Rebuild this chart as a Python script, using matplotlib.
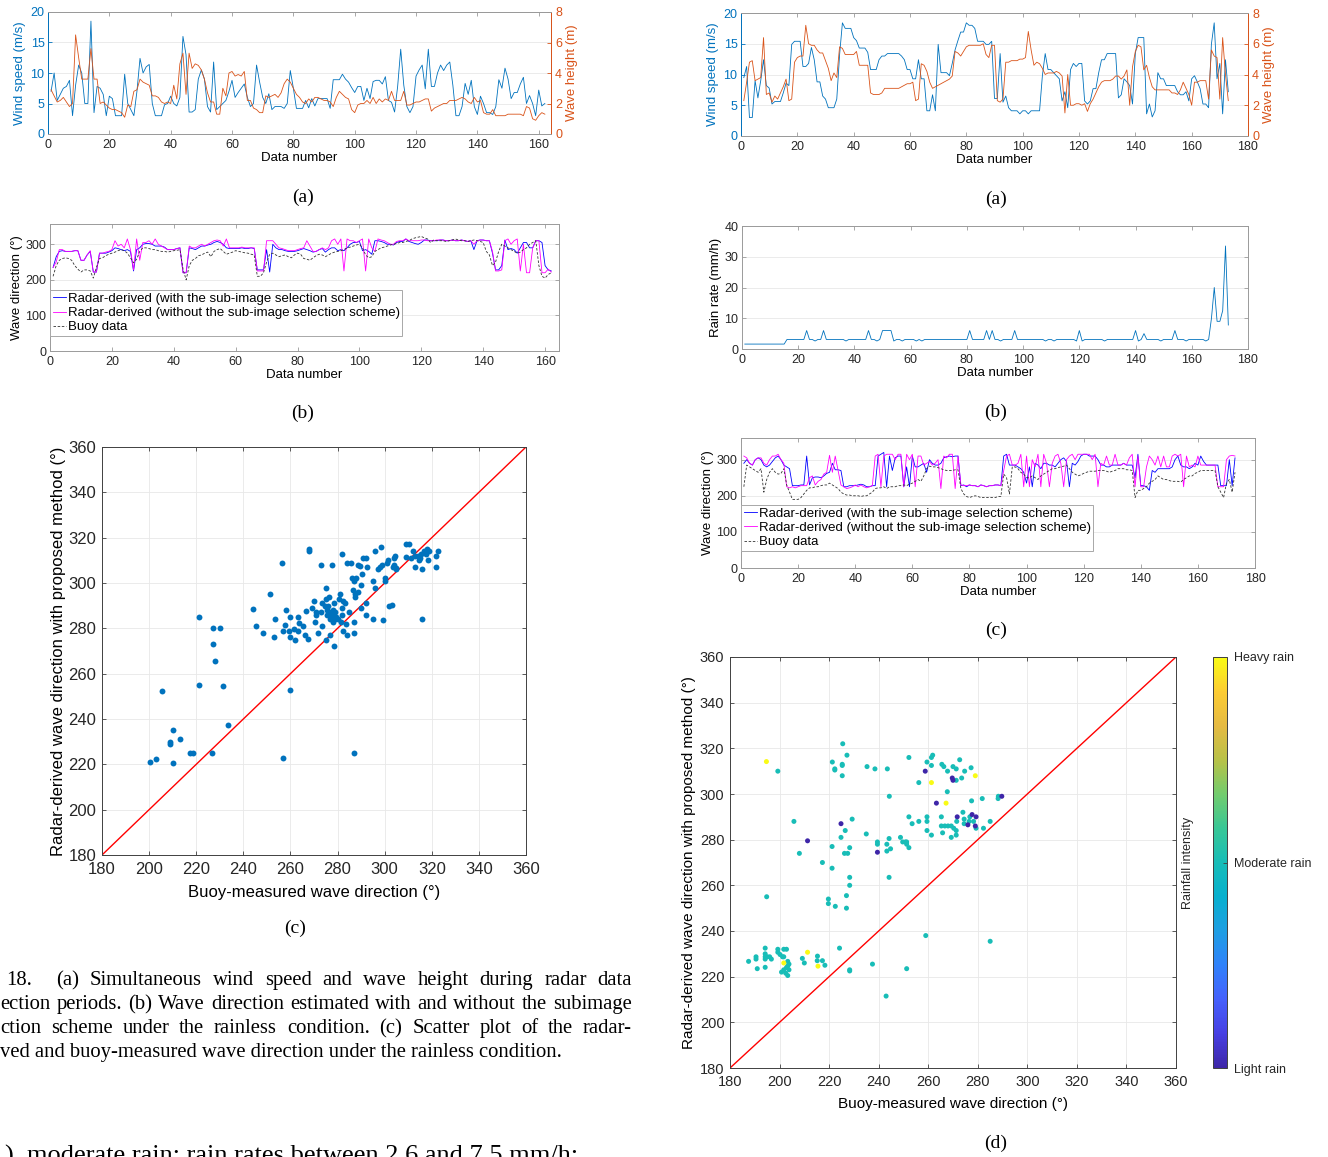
import numpy as np
import matplotlib
matplotlib.use('Agg')
import matplotlib.pyplot as plt
from matplotlib.colors import LinearSegmentedColormap, Normalize
from matplotlib.cm import ScalarMappable

# ---------------- data ----------------
# left column, rainless condition, 162 samples
wind_rainless = [7, 10, 5.5, 6.5, 7.5, 7.8, 8.8, 3.0, 8, 11.3,
                 10, 5, 5, 18.5, 3.5, 7.8, 7.5, 6.5, 3, 6.2,
                 5.8, 3, 3, 3, 9.8, 5, 4, 3, 7, 12.4,
                 10, 11, 11.4, 5, 3, 3, 3, 4.8, 5, 6.2,
                 5, 4.6, 6, 16, 13, 3.6, 3.6, 4, 9, 10.5,
                 9, 4.5, 3.6, 11.8, 4, 4.5, 5, 5.5, 7, 8.8,
                 6, 6.8, 7.5, 8.2, 6, 4.5, 5, 11.3, 8.5, 6,
                 5, 6.6, 4, 4.5, 4.5, 4.5, 4.2, 5, 10.4, 7.5,
                 4.2, 4.2, 4.2, 5.5, 4.3, 5.8, 4.6, 5.8, 5.8, 5.8,
                 5.8, 4.2, 8.9, 8.9, 8.9, 9.8, 9, 8.5, 7.6, 6.8,
                 7.8, 7.8, 5.5, 7.5, 5.8, 8.6, 8.8, 8.8, 8.2, 9.4,
                 5.5, 5.2, 3.6, 7.8, 13.9, 8, 4.5, 3.5, 4.5, 9.5,
                 10.5, 11.3, 7.4, 13.9, 7.8, 7.8, 10, 11.3, 10.4, 11.3,
                 11.8, 8, 3, 3, 4.5, 8.3, 6.5, 8.8, 4.5, 3.2,
                 6.2, 5, 3.5, 3.5, 3.2, 4.5, 8.9, 7.5, 10.8, 9,
                 5.8, 6.8, 6.8, 8.2, 9.3, 5, 6.3, 5, 3, 7.2,
                 4.6, 5]
wave_rainless = [2.9, 2.5, 2.1, 2.2, 2.4, 2.1, 1.8, 2.0, 6.5, 5.0,
                 3.6, 3.6, 3.6, 5.6, 3.6, 3.6, 2.0, 2.1, 1.9, 1.7,
                 1.6, 1.6, 1.5, 1.4, 1.1, 1.9, 1.8, 2.8, 2.9, 3.6,
                 3.4, 3.3, 3.2, 2.5, 2.5, 2.4, 2.1, 2.0, 2.1, 2.0,
                 3.2, 2.3, 4.6, 5.3, 2.6, 5.3, 4.3, 4.6, 4.5, 4.2,
                 3.6, 2.7, 2.1, 2.1, 1.3, 1.3, 3.0, 2.5, 4.0, 4.1,
                 3.8, 3.9, 3.8, 4.1, 2.2, 2.2, 1.7, 1.6, 1.4, 1.4,
                 2.5, 2.4, 2.5, 2.6, 2.4, 2.7, 3.3, 3.6, 3.4, 3.0,
                 2.6, 2.4, 2.1, 2.0, 2.3, 2.1, 2.4, 2.4, 2.3, 2.2,
                 2.2, 2.1, 1.8, 2.4, 2.8, 2.6, 2.4, 2.3, 1.6, 1.4,
                 1.9, 2.0, 2.0, 2.2, 2.0, 2.4, 2.0, 2.3, 2.1, 2.3,
                 2.2, 2.8, 2.2, 2.2, 2.2, 2.8, 1.9, 1.9, 2.0, 2.1,
                 2.1, 2.2, 2.3, 2.3, 1.5, 1.7, 1.8, 1.9, 2.0, 2.0,
                 2.2, 2.2, 2.2, 2.3, 2.4, 2.3, 2.1, 2.0, 2.4, 2.1,
                 2.2, 1.4, 1.3, 1.3, 1.6, 1.2, 1.2, 1.2, 1.2, 1.3,
                 1.3, 1.3, 1.3, 1.3, 1.2, 1.8, 1.7, 1.0, 0.9, 1.2,
                 1.4, 1.3]
dir_with_rainless = [235, 265, 280, 282, 280, 280, 280, 282, 282, 255,
                     255, 270, 280, 222, 222, 275, 275, 275, 278, 282,
                     290, 288, 285, 282, 285, 280, 225, 285, 290, 300,
                     302, 302, 300, 295, 295, 295, 292, 285, 285, 285,
                     288, 290, 220, 220, 290, 288, 285, 290, 295, 295,
                     298, 300, 305, 308, 305, 300, 290, 288, 288, 288,
                     288, 290, 288, 288, 290, 288, 228, 228, 228, 285,
                     222, 300, 290, 285, 285, 282, 280, 280, 280, 282,
                     285, 288, 285, 282, 278, 280, 285, 288, 278, 285,
                     290, 290, 282, 285, 282, 290, 300, 305, 305, 308,
                     282, 285, 280, 272, 310, 310, 308, 305, 300, 300,
                     298, 305, 308, 308, 315, 308, 305, 302, 300, 305,
                     312, 312, 310, 310, 310, 312, 312, 310, 310, 312,
                     310, 310, 312, 310, 308, 310, 285, 310, 312, 312,
                     310, 310, 275, 228, 228, 240, 312, 285, 288, 285,
                     275, 290, 305, 305, 290, 290, 310, 310, 305, 240,
                     228, 225]
dir_without_rainless = [235, 250, 285, 285, 280, 280, 280, 282, 282, 255,
                        255, 270, 282, 222, 222, 275, 275, 278, 280, 285,
                        310, 295, 300, 290, 315, 285, 228, 315, 255, 305,
                        305, 310, 300, 315, 300, 295, 290, 285, 285, 285,
                        288, 290, 220, 220, 295, 290, 290, 295, 300, 295,
                        300, 305, 310, 312, 310, 295, 315, 290, 290, 290,
                        290, 292, 290, 290, 290, 290, 225, 225, 225, 310,
                        310, 310, 300, 290, 288, 285, 282, 282, 282, 285,
                        288, 290, 310, 295, 280, 280, 285, 290, 285, 290,
                        310, 315, 300, 315, 225, 315, 310, 310, 305, 310,
                        315, 225, 315, 290, 280, 315, 312, 310, 305, 300,
                        300, 308, 310, 310, 315, 310, 310, 310, 310, 312,
                        312, 310, 310, 310, 312, 312, 312, 310, 310, 312,
                        310, 310, 312, 310, 308, 310, 300, 310, 312, 312,
                        310, 310, 280, 225, 225, 228, 310, 315, 300, 310,
                        315, 225, 300, 220, 220, 290, 310, 310, 220, 220,
                        230, 222]
dir_buoy_rainless = [210, 240, 255, 260, 262, 260, 255, 240, 230, 222,
                     228, 228, 225, 205, 235, 260, 262, 268, 272, 275,
                     278, 282, 285, 282, 275, 262, 248, 258, 280, 290,
                     290, 288, 285, 285, 282, 280, 280, 278, 280, 282,
                     283, 285, 230, 200, 240, 255, 260, 268, 270, 275,
                     278, 265, 280, 285, 288, 280, 272, 275, 278, 282,
                     280, 278, 276, 275, 272, 270, 210, 210, 220, 250,
                     272, 275, 270, 265, 268, 270, 265, 262, 270, 275,
                     272, 260, 258, 255, 262, 268, 272, 270, 265, 270,
                     275, 278, 280, 282, 285, 290, 292, 295, 298, 300,
                     290, 270, 262, 265, 280, 285, 290, 292, 295, 298,
                     300, 302, 305, 305, 308, 310, 315, 318, 320, 322,
                     318, 315, 305, 312, 310, 310, 310, 308, 310, 312,
                     315, 312, 310, 310, 308, 310, 312, 310, 308, 305,
                     280, 270, 240, 250, 280, 300, 295, 290, 285, 280,
                     275, 278, 285, 290, 300, 305, 310, 240, 210, 205,
                     215, 220]

buoy_c = [200.5, 203, 205.5, 209, 209, 210, 210, 213, 217.5, 218.5, 221, 221, 226.5,
          227, 227, 228, 230, 231.5, 233.5, 257, 260, 287,
          244, 245.5, 248.5, 251.5, 253, 253.5, 256.5, 257, 257.5, 258, 259.5, 260, 260,
          261.5, 262, 263, 263, 263.5, 265.5, 266, 266.5, 267.5, 268, 268, 269, 270,
          270.5, 271, 271, 271.5, 273, 273, 273.5, 273.5, 274.5, 275, 275, 275, 275.5,
          275.5, 276, 276.5, 277, 277, 277, 277.5, 277.5, 278, 278, 278, 278.5, 278.5,
          279, 279, 279.5, 280, 280.5, 281, 281.5, 282, 282, 282, 282.5, 282.5, 283,
          283.5, 284, 284, 285, 285.5, 286, 286.5, 287, 287, 287, 287.5, 287.5, 288,
          288.5, 288.5, 289.5, 290, 290, 290.5, 291, 292, 292, 292, 292.5, 295, 295,
          296, 296, 297, 298, 298.5, 299, 299.5, 300, 300, 301, 301.5, 302, 303, 303.5,
          304, 304, 304.5, 305, 305, 309, 309, 310.5, 311, 312, 313, 313, 314, 314.5,
          315, 315.5, 316, 316, 316.5, 317.5, 318, 318.5, 319, 322, 322, 322.5]
radar_c = [221, 222.5, 252.5, 230, 229, 235, 220.5, 231, 225, 225, 285, 255, 225,
           280, 273, 265.5, 280, 254.5, 237.5, 223, 253, 225,
           288.5, 281, 278, 295, 276, 284, 309, 279, 281.5, 288, 279, 276, 285,
           279.5, 275, 279, 285, 282.5, 281, 277, 287.5, 275.5, 314, 315, 289, 292,
           283, 287, 286, 278, 287, 308, 281, 291, 290, 293, 298, 275, 288,
           286, 290, 294, 284, 287, 277, 308, 286, 283, 285, 288, 291, 272,
           284, 287, 285, 284, 293, 295, 283, 289, 313, 286, 292, 279, 291,
           282, 309, 277, 287, 309, 302, 297, 283, 301, 278, 295, 294, 302,
           308, 296, 307.5, 299, 289, 304, 311, 311, 291, 286, 307, 284, 301,
           314, 298, 306, 307, 316, 308, 283.5, 302, 301, 309, 310, 290, 290.5, 307,
           308, 311, 312, 306, 306.5, 311.5, 317, 317, 311, 314, 307, 312, 312, 310,
           311, 313, 306, 284, 314, 313, 315, 310, 314, 307, 312, 314]

# right column, rainy condition, 173 samples
wind_rain = [9.5, 11.3, 3, 3, 9, 6.2, 9, 12.4, 8.2, 7.8,
             5.2, 5.6, 5.6, 5.6, 7, 8.6, 8.2, 14.9, 15.4, 15.4,
             15.4, 11.3, 11.3, 11.8, 14.4, 12.4, 8.8, 8.8, 6.5, 6,
             4.6, 4.6, 4.6, 6, 13.2, 18.4, 17.5, 17.5, 17.5, 16,
             15.5, 14.3, 14.3, 14.3, 13.6, 10.8, 10.8, 10.8, 12.4, 13,
             13, 13.4, 13.4, 13.4, 13.4, 13.4, 13, 12.4, 10.8, 10.8,
             9.3, 9.3, 12.4, 9.3, 9.3, 4.1, 4.1, 6.7, 4.1, 14.9,
             10.3, 10.3, 10.3, 9.8, 11.8, 14, 15.5, 16.9, 16.9, 18.4,
             18, 18, 17.5, 15.4, 15.4, 15.4, 14.9, 14.9, 15.4, 6.1,
             6.1, 13.4, 5.5, 6.5, 4.6, 4.1, 4.1, 4.1, 3.6, 4.1,
             4.1, 3.6, 4.1, 4.1, 4.1, 4.1, 9.8, 13.4, 10.8, 10.8,
             10.3, 9.8, 9.3, 5.7, 7.2, 4.6, 10.8, 11.8, 11.3, 11.8,
             11.8, 5.7, 5.2, 5.7, 7.7, 7.7, 10.3, 12.4, 12.4, 13.4,
             13.4, 13.4, 13.4, 6.2, 6.7, 9.3, 8.8, 8.2, 5.2, 13.4,
             16, 16, 16, 3.6, 5.2, 3.1, 4.1, 10.3, 9.3, 9.3,
             8.2, 8.2, 8.2, 8.2, 7.2, 6.7, 6.7, 7.2, 5.7, 9.3,
             9.8, 8.8, 7.7, 5.2, 5.2, 4.6, 14.9, 18.4, 9.3, 11.8,
             3.6, 12.4, 7.2]
wave_rain = [2.3, 3.5, 4.8, 4.9, 3.6, 3.7, 3.8, 6.4, 2.7, 2.8,
             2.2, 2.6, 2.4, 2.8, 3.2, 3.7, 2.3, 2.4, 4.8, 5.1,
             5.2, 5.2, 7.2, 6.0, 5.9, 5.9, 5.6, 5.4, 5.4, 4.9,
             4.4, 3.6, 4.1, 3.8, 5.8, 5.7, 5.3, 5.3, 5.3, 5.3,
             5.5, 4.6, 4.6, 4.6, 4.6, 2.8, 2.7, 2.7, 2.7, 2.8,
             3.1, 3.1, 3.1, 3.1, 3.1, 3.1, 3.2, 3.3, 3.4, 3.4,
             3.5, 2.3, 2.4, 4.7, 4.6, 4.2, 3.5, 3.1, 3.2, 3.3,
             3.4, 3.5, 3.6, 3.7, 3.9, 5.5, 5.4, 5.2, 5.5, 5.8,
             5.9, 5.9, 5.9, 5.9, 5.9, 6.0, 5.3, 5.1, 5.9, 5.9,
             2.3, 2.2, 2.4, 4.8, 4.8, 4.9, 4.9, 4.9, 5.0, 5.0,
             5.1, 6.8, 5.6, 4.6, 4.8, 4.7, 4.4, 4.0, 4.1, 4.1,
             4.1, 4.2, 4.1, 3.9, 1.5, 4.0, 2.0, 2.0, 2.1, 2.1,
             2.0, 2.1, 1.6, 2.1, 2.4, 2.8, 3.2, 3.5, 3.6, 3.6,
             3.6, 3.7, 3.9, 3.9, 3.7, 3.9, 4.3, 2.0, 4.5, 5.5,
             5.9, 5.8, 4.3, 4.6, 3.8, 3.2, 3.0, 3.0, 3.0, 3.0,
             3.0, 3.0, 2.8, 2.8, 2.7, 3.0, 3.5, 3.1, 2.7, 2.0,
             3.5, 3.5, 3.6, 3.6, 3.6, 2.4, 5.6, 5.2, 5.1, 2.4,
             6.4, 4.0, 2.3]
rain_rate = [1.6, 1.6, 1.6, 1.6, 1.6, 1.6, 1.6, 1.6, 1.6, 1.6,
             1.6, 1.6, 1.6, 1.6, 1.6, 3.1, 3.1, 3.1, 3.1, 3.1,
             3.1, 3.1, 6, 3.1, 3.1, 2.6, 3.1, 3.1, 6, 3.1,
             3.1, 3.1, 3.1, 3.1, 3.1, 3.1, 2.6, 3.1, 3.1, 3.1,
             3.1, 3.1, 3.1, 3.1, 6, 3.1, 3.1, 2.6, 3.1, 6,
             6, 6, 6, 2.6, 3.1, 3.1, 2.6, 3.1, 3.1, 3.1,
             3.1, 2.6, 3.1, 2.6, 3.1, 3.1, 3.1, 3.1, 3.1, 3.1,
             3.1, 3.1, 3.1, 3.1, 3.1, 3.1, 3.1, 3.1, 3.1, 3.1,
             6, 3.1, 3.1, 3.1, 3.1, 3.1, 6, 3.1, 6, 3.1,
             3.1, 2.6, 3.1, 3.1, 3.1, 3.1, 6, 3.1, 3.1, 3.1,
             3.1, 3.1, 3.1, 3.1, 3.1, 3.1, 3.1, 2.6, 3.1, 3.1,
             2.6, 3.1, 3.1, 3.1, 3.1, 3.1, 3.1, 3.1, 2.6, 6,
             2.6, 3.1, 3.1, 3.1, 3.1, 3.1, 3.1, 3.1, 2.6, 3.1,
             3.1, 3.1, 3.1, 3.1, 3.1, 3.1, 3.1, 3.1, 3.1, 6,
             2.6, 3.1, 5, 3.1, 3.1, 3.1, 3.1, 3.1, 2.6, 3.1,
             3.1, 3.1, 3.1, 6, 3.1, 3.1, 3.1, 2.6, 3.1, 3.1,
             3.1, 3.1, 3.1, 3.1, 2.6, 3.1, 10, 20, 9, 9,
             12.5, 33.5, 7.8]
dir_with_rain = [290, 300, 290, 285, 300, 305, 300, 285, 280, 285,
                 295, 305, 310, 300, 285, 280, 275, 228, 228, 228,
                 230, 230, 310, 230, 250, 252, 252, 250, 255, 262,
                 265, 290, 272, 272, 270, 225, 225, 228, 228, 228,
                 230, 232, 230, 225, 225, 228, 228, 310, 315, 320,
                 225, 310, 270, 305, 310, 310, 225, 280, 225, 310,
                 280, 280, 285, 290, 265, 300, 290, 285, 285, 290,
                 305, 308, 310, 308, 310, 310, 228, 230, 225, 230,
                 228, 228, 225, 230, 228, 225, 228, 228, 230, 230,
                 228, 310, 315, 285, 285, 285, 280, 275, 265, 235,
                 280, 225, 290, 285, 275, 290, 290, 285, 285, 280,
                 290, 300, 305, 295, 225, 290, 285, 295, 310, 315,
                 315, 310, 310, 310, 300, 285, 285, 280, 280, 285,
                 285, 285, 285, 290, 285, 285, 285, 250, 315, 228,
                 228, 225, 215, 270, 265, 275, 275, 275, 275, 275,
                 280, 300, 310, 285, 280, 280, 275, 280, 290, 285,
                 310, 295, 285, 285, 285, 285, 285, 228, 228, 228,
                 300, 228, 305]
dir_without_rain = [310, 305, 290, 285, 300, 305, 305, 290, 285, 300,
                    310, 310, 315, 300, 290, 225, 222, 225, 222, 225,
                    228, 228, 228, 250, 255, 230, 240, 245, 260, 265,
                    312, 265, 310, 270, 230, 225, 220, 222, 225, 230,
                    225, 230, 225, 222, 225, 228, 310, 315, 225, 310,
                    315, 315, 315, 300, 315, 315, 225, 315, 300, 315,
                    225, 310, 310, 285, 290, 295, 285, 290, 300, 220,
                    310, 305, 315, 315, 220, 310, 230, 228, 228, 230,
                    228, 228, 225, 230, 228, 225, 228, 228, 230, 230,
                    228, 270, 310, 315, 285, 285, 290, 315, 225, 310,
                    225, 300, 280, 315, 225, 315, 290, 225, 290, 310,
                    315, 290, 225, 300, 310, 315, 300, 315, 315, 315,
                    315, 315, 300, 315, 225, 290, 285, 310, 285, 285,
                    315, 285, 285, 290, 285, 305, 315, 225, 310, 225,
                    225, 280, 310, 300, 285, 310, 280, 310, 280, 280,
                    310, 315, 310, 315, 225, 310, 280, 285, 280, 310,
                    285, 285, 285, 285, 285, 285, 225, 225, 225, 300,
                    310, 312, 310]
dir_buoy_rain = [225, 285, 280, 275, 270, 265, 275, 210, 245, 265,
                 275, 265, 260, 262, 275, 230, 210, 190, 190, 190,
                 195, 205, 215, 222, 222, 225, 225, 228, 230, 230,
                 235, 230, 225, 220, 210, 205, 202, 202, 200, 200,
                 200, 198, 200, 200, 205, 210, 220, 222, 222, 225,
                 220, 225, 225, 225, 228, 228, 230, 228, 232, 235,
                 240, 245, 240, 255, 275, 282, 280, 280, 278, 275,
                 272, 270, 270, 270, 272, 272, 220, 205, 198, 195,
                 198, 200, 198, 195, 195, 195, 195, 195, 195, 198,
                 198, 260, 250, 205, 280, 280, 275, 265, 260, 250,
                 250, 255, 250, 245, 255, 260, 265, 270, 275, 275,
                 278, 280, 282, 285, 275, 265, 260, 255, 258, 262,
                 265, 268, 268, 268, 270, 270, 270, 268, 265, 268,
                 270, 275, 275, 275, 272, 272, 270, 195, 215, 215,
                 220, 225, 235, 240, 245, 255, 250, 245, 245, 242,
                 240, 240, 240, 238, 245, 250, 255, 255, 262, 265,
                 270, 270, 270, 270, 270, 270, 225, 210, 195, 235,
                 245, 210, 265]

# scatter (d), split by rain intensity
moderate_x = [225.5, 227.2, 221.3, 222.3, 222.3, 225.3, 225.3, 225.3, 199.3, 194.8,
              235.3, 238.5, 243.5, 244.3, 252.2, 256.2, 259.5, 261.3, 261.3, 261.8,
              265.5, 266.3, 267.8, 270, 271.3, 272.7, 271.3, 273.5, 274.7, 277.3,
              267.7, 277.5, 281.8, 288.2, 288.3, 252.2, 253.5, 256.2, 259.5, 259.5,
              259.5, 261.3, 265.3, 265.3, 266.7, 265.8, 268, 269.3, 269.3, 270.3,
              271.3, 271.3, 271.5, 274, 274.5, 274.5, 276.5, 276.8, 278.3, 279.3,
              282.3, 285, 285, 259, 205.8, 208, 217.3, 221.2, 221.2, 222.5,
              219.7, 219.7, 224.8, 226.5, 226.2, 227.5, 228.3, 229.3, 228.3, 228.3,
              227, 227, 235, 239.5, 239.5, 243.3, 243.3, 244.2, 244.8, 244.2,
              248.8, 249.7, 250.8, 251.3, 252.2, 251.3, 237.5, 243, 251.3, 224.2,
              228.3, 228.3, 215.3, 215.2, 217.3, 218.3, 210, 209.2, 187.5, 190.5,
              190.5, 191, 194.2, 194.2, 194.2, 194.2, 194.2, 195, 196, 196.7,
              199.3, 199.3, 200.2, 201.2, 201.7, 202.8, 201.7, 200.8, 201.7, 202.8,
              203.3, 203.3, 202.5, 203.3, 203.8, 203.8]
moderate_y = [322, 317, 314, 311, 310.5, 313, 312.5, 308, 310, 255,
              312, 311, 311, 299, 316, 305, 314, 312.5, 316, 317,
              313, 312, 310, 312, 311, 315, 306, 307, 310, 311.5,
              301, 297, 298, 298, 299, 290, 287, 288, 290, 288,
              284, 282, 290, 286, 286, 283, 286, 286, 281, 285,
              284, 282, 288, 292, 289, 287, 288, 290, 288, 285,
              285, 288, 235.5, 238, 288, 274, 270, 277, 267.5, 250.8,
              254, 252, 281, 284, 274, 274, 276.5, 289, 263.5, 260,
              255.5, 250, 282.5, 278, 279, 278, 275, 280.5, 276, 263.5,
              281, 279, 279, 278, 276.5, 279, 225.5, 211.5, 223.5, 232.5,
              223, 222.5, 229, 227, 227, 225, 226, 228, 226.7, 228.7,
              227.7, 223.5, 232.5, 230, 228.7, 227.7, 224.1, 228.7, 228.7, 227.7,
              232, 230.7, 229.7, 228.7, 232, 232, 228.7, 222, 223, 224,
              226.7, 224.6, 221.5, 220.5, 223, 225.5]
heavy_x = [194.7, 211.3, 201.7, 215.5, 261.3, 267.2, 279]
heavy_y = [314.2, 230.7, 226, 224.6, 305, 296, 308]
light_x = [258.8, 269.7, 270, 263.3, 224.8, 211.3, 239.5, 271.7, 277.7, 279.3, 279, 276, 289.7]
light_y = [310, 307, 306, 296, 287, 279.5, 274.5, 290, 291, 290, 286, 286.5, 299]
rain_levels = ['Light rain', 'Moderate rain', 'Heavy rain']

# ---------------- style ----------------
plt.rcParams['font.family'] = ['Liberation Sans', 'DejaVu Sans']
BLUE = '#0072BD'
ORANGE = '#D95319'
TXT = '#262626'
W, H = 1328, 1157

parula = LinearSegmentedColormap.from_list('parula', [
    (0.000, (0.2422, 0.1504, 0.6603)),
    (0.083, (0.2780, 0.2500, 0.8900)),
    (0.167, (0.2700, 0.3800, 0.9900)),
    (0.250, (0.1900, 0.5100, 0.9800)),
    (0.333, (0.1200, 0.6200, 0.8900)),
    (0.417, (0.0300, 0.6900, 0.8100)),
    (0.500, (0.0900, 0.7400, 0.7200)),
    (0.583, (0.2200, 0.7800, 0.5900)),
    (0.667, (0.4500, 0.8000, 0.4300)),
    (0.750, (0.7200, 0.7600, 0.2800)),
    (0.833, (0.9000, 0.7300, 0.2600)),
    (0.917, (0.9900, 0.8000, 0.2000)),
    (1.000, (0.9769, 0.9839, 0.0805))])

fig = plt.figure(figsize=(W / 100, H / 100), dpi=100)


def px_axes(x0, y0, x1, y1):
    return fig.add_axes([x0 / W, 1 - y1 / H, (x1 - x0) / W, (y1 - y0) / H])


def matlab_style(ax, fs, spine='#9a9a9a', both_grid=False, xpad=3.5):
    ax.tick_params(direction='in', length=3, width=0.6, labelsize=fs, color=spine,
                   labelcolor=TXT, top=True, right=True, pad=2.5)
    ax.tick_params(axis='x', pad=xpad)
    for s in ax.spines.values():
        s.set_color(spine)
        s.set_linewidth(0.7)
    ax.grid(True, axis='both' if both_grid else 'y', color='#e8e8e8', lw=0.6)
    ax.set_axisbelow(True)


def caption(x, y, s):
    fig.text(x / W, 1 - y / H, s, ha='center', va='center', fontsize=14,
             family='Liberation Serif', color='black')


def wind_wave(box, wind, wave, xmax, xticks):
    ax = px_axes(*box)
    n = np.arange(1, len(wind) + 1)
    ax.plot(n, wind, color=BLUE, lw=0.6)
    matlab_style(ax, 9)
    ax.tick_params(axis='y', right=False, labelcolor=BLUE, color=BLUE)
    ax.set_xlim(0, xmax)
    ax.set_ylim(0, 20)
    ax.set_xticks(xticks)
    ax.set_yticks([0, 5, 10, 15, 20])
    ax.set_xlabel('Data number', fontsize=9.5, labelpad=1)
    ax.set_ylabel('Wind speed (m/s)', fontsize=9.5, color=BLUE, labelpad=3)
    ax2 = ax.twinx()
    ax2.plot(n, wave, color=ORANGE, lw=0.6)
    ax2.set_ylim(0, 8)
    ax2.set_yticks([0, 2, 4, 6, 8])
    ax2.tick_params(direction='in', length=3, width=0.6, labelsize=9, color=ORANGE,
                    labelcolor=ORANGE, pad=3)
    ax2.set_ylabel('Wave height (m)', fontsize=9.5, color=ORANGE, labelpad=3)
    for s in ax2.spines.values():
        s.set_color('#9a9a9a')
        s.set_linewidth(0.7)
    ax2.spines['left'].set_color(BLUE)
    ax2.spines['right'].set_color(ORANGE)
    return ax


def direction(box, d_with, d_without, d_buoy, xmax, ymax, xticks, leg_top):
    ax = px_axes(*box)
    n = np.arange(1, len(d_with) + 1)
    l1, = ax.plot(n, d_with, color='#0000FF', lw=0.6)
    l2, = ax.plot(n, d_without, color='#FF00FF', lw=0.6)
    l3, = ax.plot(n, d_buoy, color='#333333', lw=0.6, dashes=(3, 2))
    matlab_style(ax, 9)
    ax.set_xlim(0, xmax)
    ax.set_ylim(0, ymax)
    ax.set_xticks(xticks)
    ax.set_yticks([0, 100, 200, 300])
    ax.set_xlabel('Data number', fontsize=9.5, labelpad=1)
    ax.set_ylabel('Wave direction (°)', fontsize=9.5, labelpad=2)
    leg = ax.legend([l1, l2, l3],
                    ['Radar-derived (with the sub-image selection scheme)',
                     'Radar-derived (without the sub-image selection scheme)',
                     'Buoy data'],
                    loc='upper left', bbox_to_anchor=(0, leg_top), borderaxespad=0,
                    fontsize=9.5, handlelength=1.0, handletextpad=0.15, borderpad=0.2,
                    labelspacing=0.15, fancybox=False, framealpha=1, edgecolor='#a8a8a8')
    leg.get_frame().set_linewidth(0.7)
    return ax


# ---------------- left column ----------------
wind_wave((48, 12, 551, 134), wind_rainless, wave_rainless, 164, range(0, 161, 20))
caption(303, 197, '(a)')

direction((50, 224, 559, 351), dir_with_rainless, dir_without_rainless, dir_buoy_rainless,
          164.5, 357, range(0, 161, 20), 0.48)
caption(303, 413, '(b)')

ax = px_axes(102, 447, 526, 855)
ax.plot([180, 360], [180, 360], color='#FF0000', lw=1.0)
ax.scatter(buoy_c, radar_c, s=18, color=BLUE, linewidths=0, zorder=3)
matlab_style(ax, 12, spine='#404040', both_grid=True, xpad=5)
ax.tick_params(axis='y', pad=4)
ax.set_xlim(180, 360)
ax.set_ylim(180, 360)
ax.set_xticks(range(180, 361, 20))
ax.set_yticks(range(180, 361, 20))
ax.set_xlabel('Buoy-measured wave direction (°)', fontsize=12, labelpad=6)
ax.set_ylabel('Radar-derived wave direction with proposed method (°)', fontsize=12, labelpad=2)
caption(295, 928, '(c)')

# figure caption text (clipped at the page edge in the original)
rend = fig.canvas.get_renderer()
CAP_FS = 14.9


def justified(words, x0, x1, y):
    ts = [fig.text(0, 1 - y / H, w, fontsize=CAP_FS, family='Liberation Serif',
                   va='baseline', color='black') for w in words]
    ws = [t.get_window_extent(rend).width for t in ts]
    gap = (x1 - x0 - sum(ws)) / (len(ws) - 1)
    x = x0
    for t, w in zip(ts, ws):
        t.set_x(x / W)
        x += w + gap


fig.text(6 / W, 1 - 985 / H, '18.', fontsize=CAP_FS, family='Liberation Serif', va='baseline')
justified('(a) Simultaneous wind speed and wave height during radar data'.split(), 56, 632, 985)
justified('ection periods. (b) Wave direction estimated with and without the subimage'.split(), 0, 632, 1009)
justified('ction scheme under the rainless condition. (c) Scatter plot of the radar-'.split(), 0, 632, 1033)
fig.text(0, 1 - 1057 / H, 'ved and buoy-measured wave direction under the rainless condition.',
         fontsize=CAP_FS, family='Liberation Serif', va='baseline')
fig.text(5 / W, 1 - 1163 / H, '), moderate rain; rain rates between 2.6 and 7.5 mm/h;',
         fontsize=19, family='Liberation Serif', va='baseline')

# ---------------- right column ----------------
wind_wave((741, 13, 1248, 136), wind_rain, wave_rain, 180, range(0, 181, 20))
caption(996, 199, '(a)')

ax = px_axes(742, 226, 1248, 349)
ax.plot(np.arange(1, len(rain_rate) + 1), rain_rate, color=BLUE, lw=0.6)
matlab_style(ax, 9)
ax.set_xlim(0, 180)
ax.set_ylim(0, 40)
ax.set_xticks(range(0, 181, 20))
ax.set_yticks(range(0, 41, 10))
ax.set_xlabel('Data number', fontsize=9.5, labelpad=1)
ax.set_ylabel('Rain rate (mm/h)', fontsize=9.5, labelpad=2)
caption(996, 412, '(b)')

direction((741, 438, 1255, 568), dir_with_rain, dir_without_rain, dir_buoy_rain,
          180, 360, range(0, 181, 20), 0.485)
caption(996, 630, '(c)')

ax = px_axes(730, 657, 1176, 1068)
ax.plot([180, 360], [180, 360], color='#FF0000', lw=1.0)
norm = Normalize(0, 1)
ax.scatter(moderate_x, moderate_y, s=13, c=[0.5] * len(moderate_x), cmap=parula, norm=norm,
           linewidths=0, zorder=3)
ax.scatter(light_x, light_y, s=13, c=[0.0] * len(light_x), cmap=parula, norm=norm,
           linewidths=0, zorder=4)
ax.scatter(heavy_x, heavy_y, s=13, c=[1.0] * len(heavy_x), cmap=parula, norm=norm,
           linewidths=0, zorder=4)
matlab_style(ax, 10.5, spine='#404040', both_grid=True, xpad=5)
ax.tick_params(axis='y', pad=4)
ax.set_xlim(180, 360)
ax.set_ylim(180, 360)
ax.set_xticks(range(180, 361, 20))
ax.set_yticks(range(180, 361, 20))
ax.set_xlabel('Buoy-measured wave direction (°)', fontsize=11, labelpad=6)
ax.set_ylabel('Radar-derived wave direction with proposed method (°)', fontsize=11, labelpad=3)

cax = px_axes(1213, 657, 1227, 1068)
cb = fig.colorbar(ScalarMappable(norm=norm, cmap=parula), cax=cax, ticks=[0, 0.5, 1])
cb.ax.set_yticklabels(rain_levels, fontsize=9, color=TXT)
cb.ax.tick_params(direction='in', length=3, width=0.6, color='#404040', pad=5)
cb.outline.set_edgecolor('#404040')
cb.outline.set_linewidth(0.7)
cb.set_label('Rainfall intensity', fontsize=9, color=TXT, labelpad=14)
cb.ax.yaxis.set_label_position('left')
caption(996, 1143, '(d)')

fig.savefig('out.png', dpi=100, facecolor='white')
